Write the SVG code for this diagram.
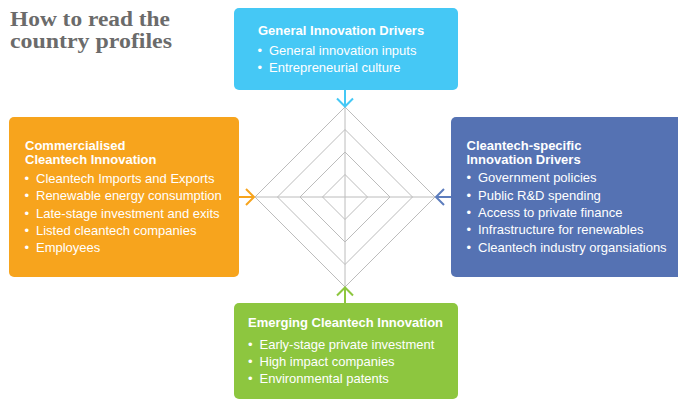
<svg xmlns="http://www.w3.org/2000/svg" width="678" height="401" viewBox="0 0 678 401">
<style>
.title{font-family:"Liberation Serif",Georgia,serif;font-weight:bold;font-size:20px;fill:#6b6b6b}
.h{font-family:"Liberation Sans",Arial,sans-serif;font-weight:bold;font-size:13px;fill:#fff}
.b{font-family:"Liberation Sans",Arial,sans-serif;font-size:13px;fill:#fff}
.grid{fill:none;stroke:#bcbcbc;stroke-width:1}
.arr{fill:none;stroke-width:2}
</style>
<rect width="678" height="401" fill="#fff"/>
<g id="title">
<text class="title" x="10" y="26" textLength="160" lengthAdjust="spacingAndGlyphs">How to read the</text>
<text class="title" x="10" y="48" textLength="162" lengthAdjust="spacingAndGlyphs">country profiles</text>
</g>
<g id="radar">
<polygon class="grid" points="345,107 435,197 345,287 255,197"/>
<polygon class="grid" points="345,129.5 412.5,197 345,264.5 277.5,197"/>
<polygon class="grid" points="345,152 390,197 345,242 300,197"/>
<polygon class="grid" points="345,174.5 367.5,197 345,219.5 322.5,197"/>
<line class="grid" x1="345" y1="107" x2="345" y2="287"/>
<line class="grid" x1="255" y1="197" x2="435" y2="197"/>
</g>
<g id="connectors">
<path class="arr" stroke="#45C8F5" d="M345,90V106M337,98.5L345,106.5L353,98.5"/>
<path class="arr" stroke="#F7A41D" d="M239,197H254M246,189L254,197L246,205"/>
<path class="arr" stroke="#5D7DBD" d="M451,197H436M444,189L436,197L444,205"/>
<path class="arr" stroke="#8DC63F" d="M345,303V288M337,295.5L345,287.5L353,295.5"/>
</g>
<g id="general">
<rect x="234" y="8" width="224" height="82" rx="5" fill="#45C8F5"/>
<text class="h" x="258" y="35">General Innovation Drivers</text>
<text class="b" x="257.5" y="55">•</text><text class="b" x="269" y="55">General innovation inputs</text>
<text class="b" x="257.5" y="72">•</text><text class="b" x="269" y="72">Entrepreneurial culture</text>
</g>
<g id="commercialised">
<rect x="9" y="117" width="230" height="160" rx="5" fill="#F7A41D"/>
<text class="h" x="25" y="150">Commercialised</text>
<text class="h" x="25" y="163.5">Cleantech Innovation</text>
<text class="b" x="24.5" y="183">•</text><text class="b" x="36" y="183">Cleantech Imports and Exports</text>
<text class="b" x="24.5" y="200">•</text><text class="b" x="36" y="200">Renewable energy consumption</text>
<text class="b" x="24.5" y="217.5">•</text><text class="b" x="36" y="217.5">Late-stage investment and exits</text>
<text class="b" x="24.5" y="234.5">•</text><text class="b" x="36" y="234.5">Listed cleantech companies</text>
<text class="b" x="24.5" y="252">•</text><text class="b" x="36" y="252">Employees</text>
</g>
<g id="cleantech-specific">
<rect x="451" y="117" width="240" height="160" rx="5" fill="#5572B3"/>
<text class="h" x="466.5" y="149.5">Cleantech-specific</text>
<text class="h" x="466.5" y="163.5">Innovation Drivers</text>
<text class="b" x="466.5" y="182">•</text><text class="b" x="478" y="182">Government policies</text>
<text class="b" x="466.5" y="199.5">•</text><text class="b" x="478" y="199.5">Public R&amp;D spending</text>
<text class="b" x="466.5" y="217">•</text><text class="b" x="478" y="217">Access to private finance</text>
<text class="b" x="466.5" y="234">•</text><text class="b" x="478" y="234">Infrastructure for renewables</text>
<text class="b" x="466.5" y="251.5">•</text><text class="b" x="478" y="251.5">Cleantech industry organsiations</text>
</g>
<g id="emerging">
<rect x="234" y="303" width="224" height="96" rx="5" fill="#8DC63F"/>
<text class="h" x="248" y="327">Emerging Cleantech Innovation</text>
<text class="b" x="248" y="348.5">•</text><text class="b" x="259.5" y="348.5">Early-stage private investment</text>
<text class="b" x="248" y="365.5">•</text><text class="b" x="259.5" y="365.5">High impact companies</text>
<text class="b" x="248" y="383">•</text><text class="b" x="259.5" y="383">Environmental patents</text>
</g>
</svg>
